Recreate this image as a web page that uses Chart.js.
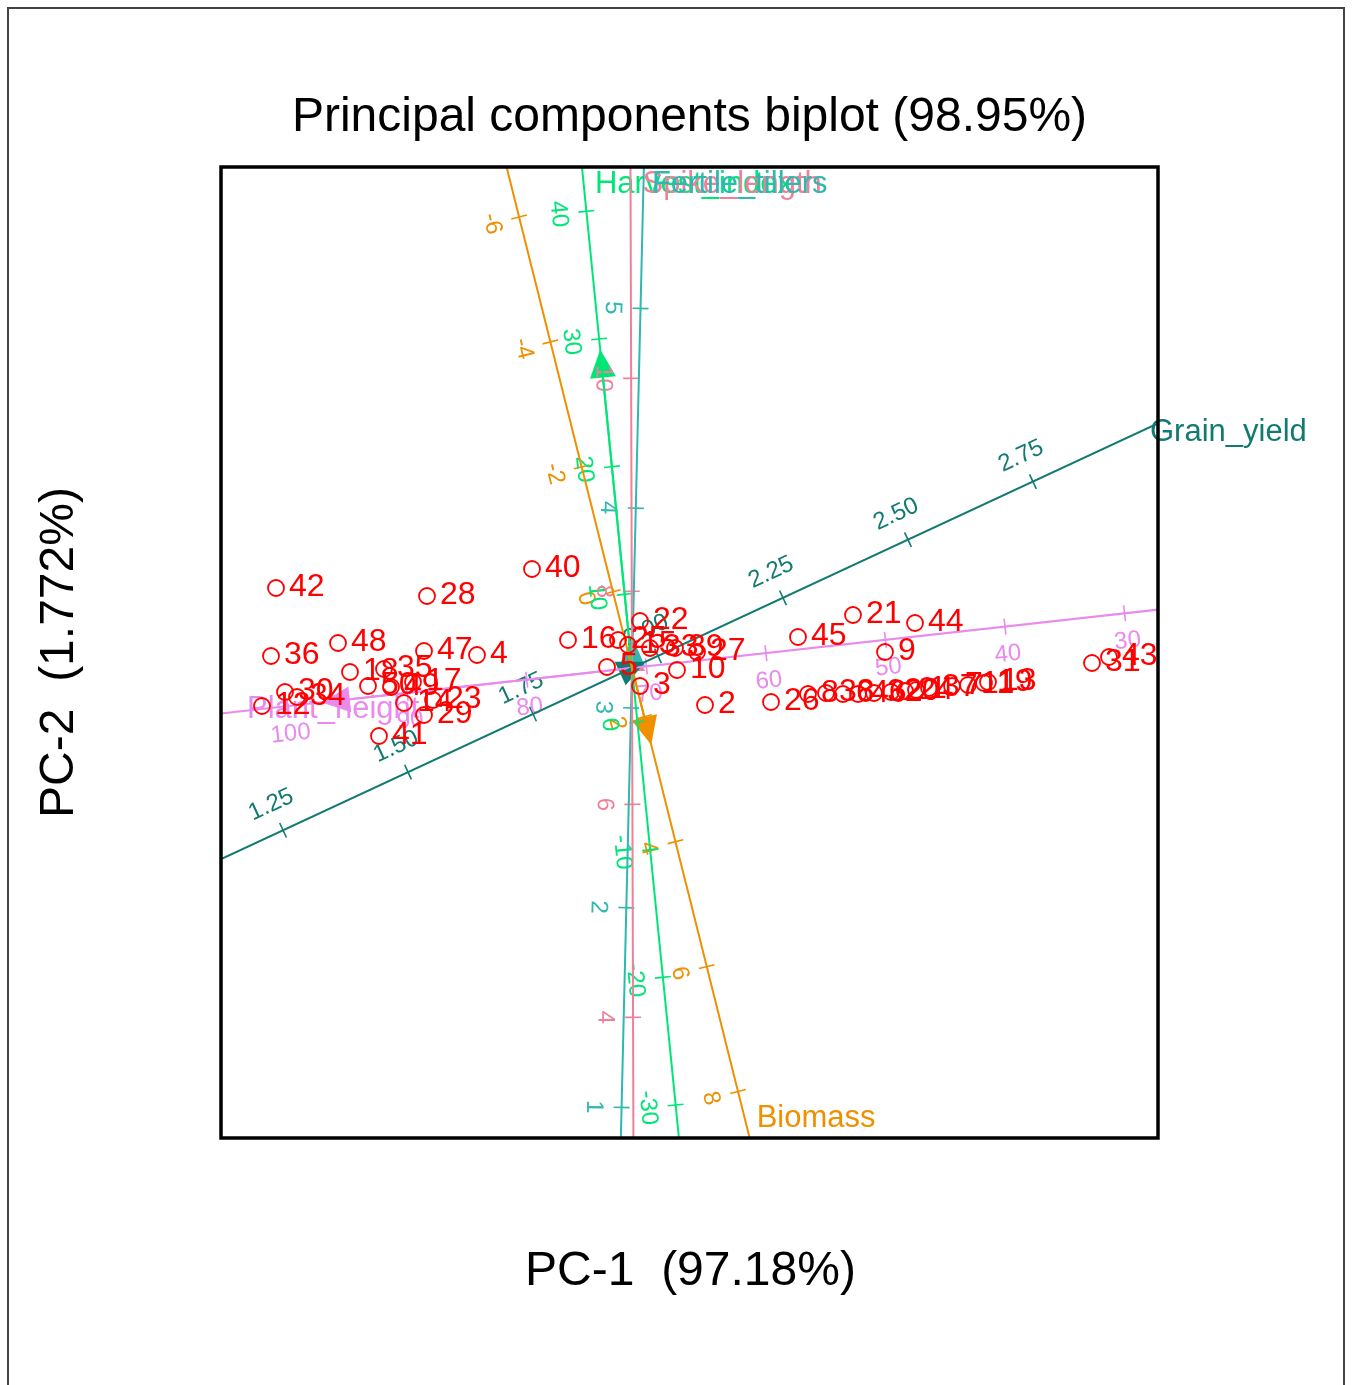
<!DOCTYPE html>
<html>
<head>
<meta charset="utf-8">
<title>Principal components biplot</title>
<script src="https://cdn.jsdelivr.net/npm/chart.js@4.4.1/dist/chart.umd.min.js"></script>
<style>
  html, body { margin: 0; padding: 0; background: #fff; overflow: hidden; }
  #frame { position: absolute; left: 7px; top: 7px; width: 1334px; height: 1400px; border: 2px solid #444; }
  #biplot { position: absolute; left: 0; top: 0; }
</style>
</head>
<body>
<div id="frame"></div>
<canvas id="biplot" width="1352" height="1385"></canvas>
<script>
// genotype scores
const genotypes = ["42", "28", "40", "36", "48", "47", "4", "18", "35", "17",
  "50", "49", "30", "34", "12", "14", "23", "29", "41", "16",
  "22", "5", "25", "15", "33", "39", "27", "10", "3", "2",
  "26", "8", "38", "6", "46", "32", "20", "24", "1", "37",
  "7", "11", "19", "13", "45", "21", "44", "9", "31", "43"];
const pc1 = [-3.56, -2.05, -1.00, -3.61, -2.94, -2.08, -1.55, -2.82, -2.48, -2.19,
  -2.64, -2.41, -3.47, -3.35, -3.70, -2.28, -1.99, -2.08, -2.53, -0.64,
  0.08, -0.25, -0.14, -0.04, 0.18, 0.43, 0.65, 0.45, 0.08, 0.73,
  1.39, 1.76, 1.94, 2.11, 2.26, 2.42, 2.59, 2.73, 2.84, 2.97,
  3.20, 3.36, 3.52, 3.56, 1.66, 2.21, 2.83, 2.53, 4.60, 4.77];
const pc2 = [0.80, 0.72, 0.99, 0.12, 0.25, 0.17, 0.13, -0.04, -0.01, -0.14,
  -0.18, -0.19, -0.24, -0.29, -0.38, -0.35, -0.32, -0.47, -0.68, 0.28,
  0.47, 0.01, 0.28, 0.23, 0.20, 0.20, 0.16, -0.02, -0.18, -0.37,
  -0.34, -0.26, -0.25, -0.26, -0.26, -0.25, -0.24, -0.23, -0.22, -0.20,
  -0.18, -0.17, -0.15, -0.14, 0.31, 0.53, 0.45, 0.16, 0.05, 0.11];

// trait axes
const traits = ["Biomass", "Harvest_index", "Spike_length", "Fertile_tillers", "Grain_yield", "Plant_height"];
const traitDirX = [0.2428, -0.0994, -0.003, 0.0237, 0.9068, -0.9938];
const traitDirY = [-0.9700, 0.9950, 1.0, 0.9997, 0.4217, -0.1103];
const traitMean = [1.22, 4.23, 7.28, 3.2, 1.948, 71.2];          // trait value at the origin
const traitStep = [0.644, 0.1283, 1.065, 1.998, 5.513, 0.1203];  // PC units per trait unit
const traitArrow = [0.79, 3.2, 0.25, 0.3, 0.15, 3.12];
const traitTicks = [
  ["-6", "-4", "-2", "0", "2", "4", "6", "8"],
  ["40", "30", "20", "10", "0", "-10", "-20", "-30"],
  ["10", "8", "6", "4"],
  ["5", "4", "3", "2", "1"],
  ["1.25", "1.50", "1.75", "2.00", "2.25", "2.50", "2.75"],
  ["100", "90", "80", "70", "60", "50", "40", "30"]
];

// styling
const traitColors = ["#EE9000", "#00E676", "#F0809A", "#2EB8B0", "#127A70", "#E88AEE"];
const nameShift = [[7, -20], [13, 17], [12, 17], [8, 17], [-8, 9], [26, -4]];
const tickSide = [1, 1, 1, 1, -1, 1];
const FONT = '"Liberation Sans", Arial, Helvetica, sans-serif';

const datasets = [{
  type: "scatter",
  label: "Genotypes",
  data: pc1.map((v, i) => ({ x: v, y: pc2[i] })),
  pointStyle: "circle",
  pointRadius: 8,
  pointHoverRadius: 8,
  borderColor: "#FF0000",
  backgroundColor: "rgba(0,0,0,0)",
  borderWidth: 1.8
}];
traits.forEach((name, i) => {
  datasets.push({
    type: "line",
    label: name,
    data: [
      { x: -12 * traitDirX[i], y: -12 * traitDirY[i] },
      { x: 12 * traitDirX[i], y: 12 * traitDirY[i] }
    ],
    borderColor: traitColors[i],
    borderWidth: 2,
    pointRadius: 0,
    pointHoverRadius: 0,
    fill: false
  });
});

function axisGeometry(chart, i) {
  const { x, y } = chart.scales;
  const ox = x.getPixelForValue(0), oy = y.getPixelForValue(0);
  let sx = x.getPixelForValue(traitDirX[i]) - ox;
  let sy = y.getPixelForValue(traitDirY[i]) - oy;
  const len = Math.hypot(sx, sy);
  sx /= len; sy /= len;
  let ang = Math.atan2(sy, sx);
  if (ang > 100 * Math.PI / 180) ang -= Math.PI;
  if (ang <= -80 * Math.PI / 180) ang += Math.PI;
  return { ux: sx, uy: sy, qx: -sy, qy: sx, ang };
}

const biplotDecor = {
  id: "biplotDecor",
  beforeDatasetsDraw(chart) {
    const { ctx, scales: { x, y } } = chart;
    traits.forEach((name, i) => {
      const g = axisGeometry(chart, i);
      const col = traitColors[i];
      ctx.save();
      ctx.strokeStyle = col;
      ctx.fillStyle = col;
      ctx.lineWidth = 1.6;
      ctx.font = "24px " + FONT;
      ctx.textAlign = "center";
      ctx.textBaseline = "middle";
      const nx = -Math.sin(g.ang) * tickSide[i], ny = Math.cos(g.ang) * tickSide[i];
      traitTicks[i].forEach(lab => {
        const t = (parseFloat(lab) - traitMean[i]) * traitStep[i];
        const px = x.getPixelForValue(t * traitDirX[i]);
        const py = y.getPixelForValue(t * traitDirY[i]);
        ctx.beginPath();
        ctx.moveTo(px - 8 * g.qx, py - 8 * g.qy);
        ctx.lineTo(px + 8 * g.qx, py + 8 * g.qy);
        ctx.stroke();
        ctx.save();
        ctx.translate(px + 28 * nx, py + 28 * ny);
        ctx.rotate(g.ang);
        ctx.fillText(lab, 0, 0);
        ctx.restore();
      });

      // loading arrow
      const ox = x.getPixelForValue(0), oy = y.getPixelForValue(0);
      const tx = x.getPixelForValue(traitArrow[i] * traitDirX[i]);
      const ty = y.getPixelForValue(traitArrow[i] * traitDirY[i]);
      const bx = tx - 28 * g.ux, by = ty - 28 * g.uy;
      ctx.lineWidth = 2;
      ctx.beginPath();
      ctx.moveTo(ox, oy);
      ctx.lineTo(bx, by);
      ctx.stroke();
      ctx.beginPath();
      ctx.moveTo(tx, ty);
      ctx.lineTo(bx + 13 * g.qx, by + 13 * g.qy);
      ctx.lineTo(bx - 13 * g.qx, by - 13 * g.qy);
      ctx.closePath();
      ctx.fill();

      // trait name at the end of its axis
      const tX = traitDirX[i] > 0 ? x.max / traitDirX[i] : traitDirX[i] < 0 ? x.min / traitDirX[i] : Infinity;
      const tY = traitDirY[i] > 0 ? y.max / traitDirY[i] : traitDirY[i] < 0 ? y.min / traitDirY[i] : Infinity;
      const te = Math.min(tX, tY);
      const ex = x.getPixelForValue(te * traitDirX[i]);
      const ey = y.getPixelForValue(te * traitDirY[i]);
      ctx.font = "31px " + FONT;
      ctx.textAlign = "left";
      ctx.fillText(name, ex + nameShift[i][0], ey + nameShift[i][1]);
      ctx.restore();
    });
  },
  afterDatasetsDraw(chart) {
    const { ctx, scales: { x, y } } = chart;
    ctx.save();
    ctx.fillStyle = "#FF0000";
    ctx.font = "32px " + FONT;
    ctx.textAlign = "left";
    ctx.textBaseline = "middle";
    genotypes.forEach((g, i) => {
      ctx.fillText(g, x.getPixelForValue(pc1[i]) + 13, y.getPixelForValue(pc2[i]) - 1);
    });
    ctx.restore();
  },
  afterDraw(chart) {
    const { ctx, chartArea: a } = chart;
    ctx.save();
    ctx.strokeStyle = "#000";
    ctx.lineWidth = 3.5;
    ctx.strokeRect(a.left, a.top, a.right - a.left, a.bottom - a.top);
    ctx.fillStyle = "#000";
    ctx.font = "48px " + FONT;
    ctx.textAlign = "center";
    ctx.textBaseline = "middle";
    const cx = (a.left + a.right) / 2, cy = (a.top + a.bottom) / 2;
    ctx.fillText("Principal components biplot (98.95%)", cx, 118);
    ctx.fillText("PC-1  (97.18%)", cx + 1, 1272);
    ctx.translate(60, cy);
    ctx.rotate(-Math.PI / 2);
    ctx.fillText("PC-2  (1.772%)", 0, 0);
    ctx.restore();
  }
};

const ctx = document.getElementById("biplot").getContext("2d");
new Chart(ctx, {
  type: "scatter",
  data: { datasets },
  options: {
    responsive: false,
    animation: false,
    devicePixelRatio: 1,
    events: [],
    layout: { padding: { left: 221, right: 194, top: 167, bottom: 247 } },
    scales: {
      x: { type: "linear", min: -4.11, max: 5.26, display: false },
      y: { type: "linear", min: -4.70, max: 5.01, display: false }
    },
    plugins: {
      legend: { display: false },
      tooltip: { enabled: false },
      title: { display: false }
    }
  },
  plugins: [biplotDecor]
});
</script>
</body>
</html>
